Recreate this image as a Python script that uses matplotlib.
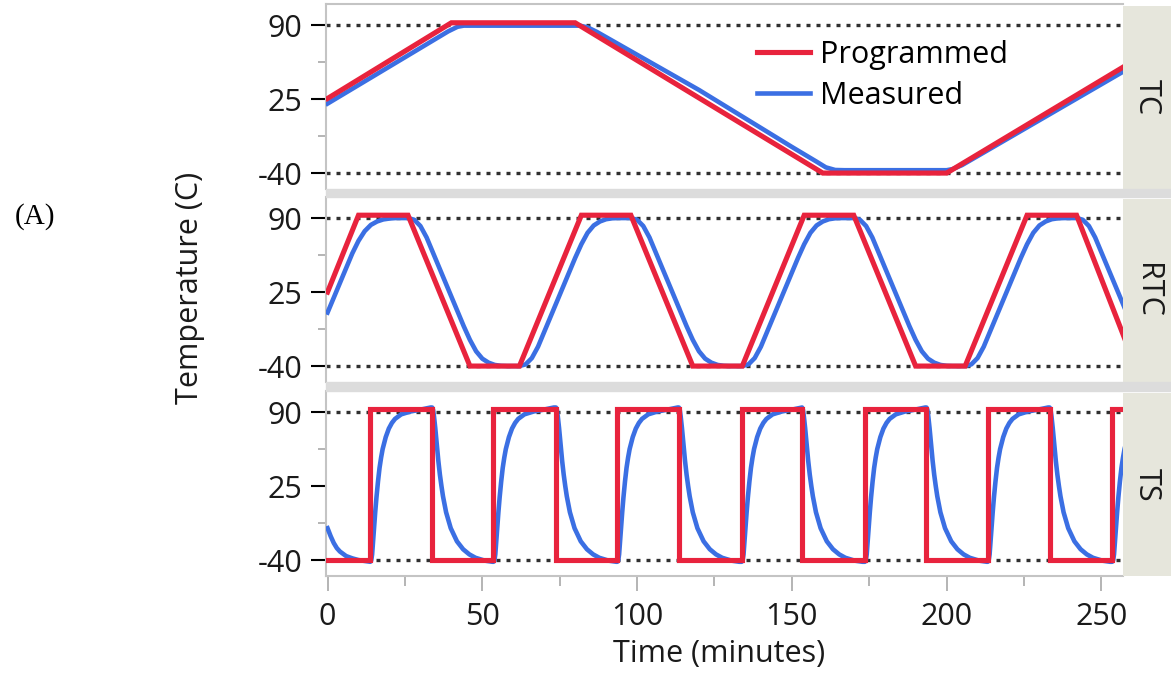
import numpy as np
import matplotlib.pyplot as plt
from matplotlib.lines import Line2D
from matplotlib.patches import Rectangle

plt.rcParams['font.family'] = ['Open Sans', 'DejaVu Sans']
plt.rcParams['axes.unicode_minus'] = False

# ---- data ----
panel_names = ["TC", "RTC", "TS"]
y_ticks = [90, 25, -40]
y_minor = [57.5, -7.5]
x_ticks = [0, 50, 100, 150, 200, 250]
x_minor = [25, 75, 125, 175, 225]

# TC (slow thermal cycle)
tc_prog_t = [0, 40, 80, 160, 200, 257]
tc_prog_v = [25.5, 92, 92, -40, -40, 53]
tc_meas_t = [0, 39, 42, 44, 81.5, 84, 87, 120, 150, 158, 161, 164, 167, 200, 202, 205, 257]
tc_meas_v = [21, 84.5, 88.5, 89.5, 89.5, 88, 84, 33, -17, -30, -35, -37.3, -37.5, -37.5, -36.5, -33, 49]

# RTC (rapid thermal cycle)
rtc_prog_t = [0, 10, 26, 46, 62, 82, 98, 118, 134, 154, 170, 190, 206, 226, 242, 261]
rtc_prog_v = [25, 92.5, 92.5, -40, -40, 92.5, 92.5, -40, -40, 92.5, 92.5, -40, -40, 92.5, 92.5, -40]
rtc_meas_first_t = [0, 2, 4, 6, 8, 10, 12, 14, 16, 18, 20, 22]
rtc_meas_first_v = [7, 20, 33, 46, 59, 70, 78.5, 84, 87, 88.8, 89.6, 90]
rtc_cycle_starts = [26, 98, 170, 242]
rtc_cycle_dt = [0, 2, 4, 6, 8, 10, 12, 14, 16, 18, 20, 22, 24, 26, 28, 30, 32, 36,
                38, 40, 42, 44, 46, 48, 50, 52, 54, 56, 58, 60, 62, 64, 66, 68, 70]
rtc_cycle_v = [90, 88.5, 83, 73, 60, 47, 34, 21, 8, -5, -17, -27, -33.5, -37, -39, -39.8, -40, -40,
               -38.5, -33, -23, -10, 3, 16, 29, 42, 55, 67, 77, 83.5, 87, 89, 89.8, 90, 90]

# TS (thermal shock)
ts_rises = [13.8, 53.6, 93.6, 133.8, 173.6, 213.3, 253.5]
ts_falls = [33.8, 73.8, 113.5, 153.3, 193.5, 233.3]
ts_low, ts_high = -40, 93
ts_meas_first_t = [0, 1, 2, 3, 4, 6, 8, 10, 13.6]
ts_meas_first_v = [-12, -19, -25, -29.5, -32.5, -36.5, -38.5, -40, -41.5]
ts_rise_dt = [0, 0.3, 0.6, 0.9, 1.2, 1.6, 2, 2.5, 3, 3.5, 4, 5, 6, 7, 8, 10, 13, 16, 19.5]
ts_rise_v = [-41.5, -40.5, -35, -24, -12, 2, 15, 29, 41, 50, 57.5, 68, 75.5, 80.5, 84, 88, 90.5, 92, 94]
ts_fall_dt = [0, 0.3, 0.6, 1, 1.5, 2, 2.5, 3, 3.5, 4.5, 6, 8, 10, 12, 14, 17, 19.5]
ts_fall_v = [94, 92, 86, 76, 61, 47, 35, 25, 16, 2, -12, -23.5, -30.5, -35, -38, -40.5, -41.5]

RED = '#E8233D'
BLUE = '#3B6FE3'


def tile(starts, dts, vals):
    t, v = [], []
    for s in starts:
        t += [s + d for d in dts]
        v += list(vals)
    return t, v


# RTC measured
t1, v1 = tile(rtc_cycle_starts, rtc_cycle_dt, rtc_cycle_v)
rtc_meas_t = rtc_meas_first_t + t1
rtc_meas_v = rtc_meas_first_v + v1

# TS programmed (square wave) and measured
events = sorted([(r, ts_high) for r in ts_rises] + [(f, ts_low) for f in ts_falls])
ts_prog_t, ts_prog_v = [0], [ts_low]
for e, lev in events:
    ts_prog_t += [e, e]
    ts_prog_v += [ts_prog_v[-1], lev]
ts_prog_t.append(257)
ts_prog_v.append(ts_prog_v[-1])

tr, vr = tile(ts_rises, ts_rise_dt, ts_rise_v)
tf, vf = tile(ts_falls, ts_fall_dt, ts_fall_v)
tt = np.array(ts_meas_first_t + tr + tf)
vv = np.array(ts_meas_first_v + vr + vf)
order = np.argsort(tt, kind='stable')
ts_meas_t, ts_meas_v = tt[order], vv[order]

series = [
    (tc_prog_t, tc_prog_v, tc_meas_t, tc_meas_v),
    (rtc_prog_t, rtc_prog_v, rtc_meas_t, rtc_meas_v),
    (ts_prog_t, ts_prog_v, ts_meas_t, ts_meas_v),
]

# ---- layout in pixels ----
W, H = 1171, 676
fig = plt.figure(figsize=(W / 100, H / 100), dpi=100)
left, right, strip_r = 326, 1123, 1171
panel_px = [(4, 189), (197, 382), (391, 576)]


def fbox(x0, y0, x1, y1):
    return [x0 / W, 1 - y1 / H, (x1 - x0) / W, (y1 - y0) / H]


GRAY_SEP = '#DCDCDC'
STRIP = '#E6E6DC'
TICK_GRAY = '#A8A8A8'
SPINE = '#C4C4C4'
FS = 22

for (y0, y1) in [(189, 197), (382, 391)]:
    fig.patches.append(Rectangle((left / W, 1 - y1 / H), (strip_r - left) / W, (y1 - y0) / H,
                                 transform=fig.transFigure, color=GRAY_SEP, zorder=0))

axes = []
for i, (y0, y1) in enumerate(panel_px):
    ax = fig.add_axes(fbox(left, y0, right, y1))
    axes.append(ax)
    pt, pv, mt, mv = series[i]
    for ref in (90, -40):
        ax.axhline(ref, ls=(0, (1.2, 1.8)), lw=2.4, color='#303030', zorder=1,
                   dash_capstyle='butt')
    ax.plot(mt, mv, color=BLUE, lw=3.3, zorder=3, solid_joinstyle='round')
    ax.plot(pt, pv, color=RED, lw=3.7, zorder=4, solid_joinstyle='miter')
    ax.set_xlim(-0.5, 257)
    ax.set_ylim(-54, 108.5)

    for s in ['right', 'top', 'bottom']:
        ax.spines[s].set_visible(False)
    ax.spines['left'].set_color(SPINE)
    ax.spines['left'].set_linewidth(1.5)
    if i == 0:
        ax.spines['top'].set_visible(True)
        ax.spines['top'].set_color(SPINE)
        ax.spines['top'].set_linewidth(1.5)

    ax.set_yticks(y_ticks)
    ax.set_yticks(y_minor, minor=True)
    ax.tick_params(axis='y', which='major', length=11, width=1.5, pad=6,
                   labelsize=FS, labelcolor='#1a1a1a')
    ax.tick_params(axis='y', which='minor', length=6, width=1.2, color=TICK_GRAY)
    for tv, tk in zip(y_ticks, ax.yaxis.get_major_ticks()):
        tk.tick1line.set_color('#222222' if tv != 25 else TICK_GRAY)

    if i < 2:
        ax.set_xticks([])
    else:
        ax.spines['bottom'].set_visible(True)
        ax.spines['bottom'].set_color(SPINE)
        ax.spines['bottom'].set_linewidth(1.5)
        ax.set_xticks(x_ticks)
        ax.set_xticks(x_minor, minor=True)
        ax.tick_params(axis='x', which='major', length=11, width=1.2, color=TICK_GRAY,
                       pad=8, labelsize=FS, labelcolor='#1a1a1a')
        ax.tick_params(axis='x', which='minor', length=7, width=1.2, color=TICK_GRAY)

    sax = fig.add_axes(fbox(right, y0 + 2, strip_r, y1))
    sax.set_facecolor(STRIP)
    sax.set_xticks([])
    sax.set_yticks([])
    for s in sax.spines.values():
        s.set_visible(False)
    sax.text(0.5, 0.5, panel_names[i], rotation=-90, ha='center', va='center',
             fontsize=FS, color='#1a1a1a', transform=sax.transAxes)

handles = [Line2D([], [], color=RED, lw=3.7), Line2D([], [], color=BLUE, lw=3.3)]
axes[0].legend(handles, ['Programmed', 'Measured'], loc='upper left',
               bbox_to_anchor=((757 - left) / (right - left), 0.805), frameon=False,
               fontsize=FS, handlelength=1.75, handletextpad=0.3, labelspacing=0.36,
               borderpad=0, borderaxespad=0)

fig.text(719 / W, 1 - 654 / H, 'Time (minutes)', ha='center', va='center',
         fontsize=FS, color='#1a1a1a')
fig.text(190 / W, 1 - 288 / H, 'Temperature (C)', rotation=90, ha='center', va='center',
         fontsize=FS, color='#1a1a1a')
fig.text(35 / W, 1 - 217 / H, '(A)', ha='center', va='center', fontsize=21,
         family=['Liberation Serif', 'DejaVu Serif'], color='black')

fig.savefig('out.png', dpi=100)
